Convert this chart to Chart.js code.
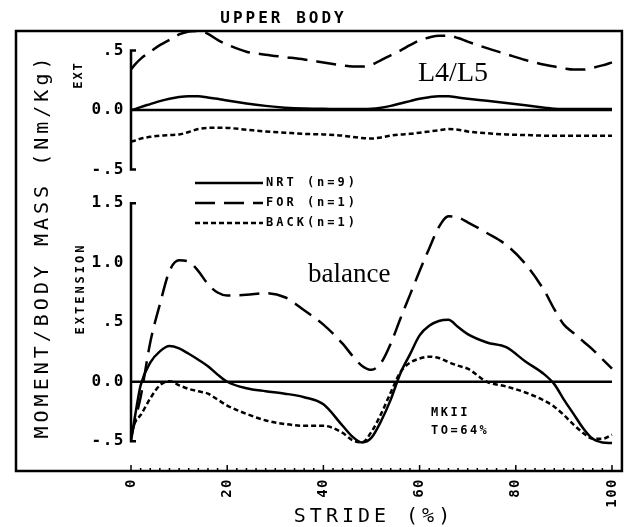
<!DOCTYPE html>
<html>
<head>
<meta charset="utf-8">
<script src="https://cdn.jsdelivr.net/npm/chart.js@4.4.1/dist/chart.umd.min.js"></script>
<style>
  html, body { margin: 0; padding: 0; background: #fff; }
</style>
</head>
<body>
<canvas id="chart" width="636" height="527"></canvas>
<script>
const stride = [0, 1, 2, 4, 6, 8, 10, 12, 14, 16, 18, 20, 24, 28, 32, 36, 40, 44, 46, 48, 50,
  52, 54, 56, 58, 60, 62, 64, 66, 68, 70, 74, 78, 82, 86, 88, 90, 92, 94, 96, 98, 100];

// upper body, L4/L5
const upperNrt = [0, 0.01, 0.025, 0.05, 0.075, 0.095, 0.11, 0.116, 0.115, 0.105, 0.095, 0.08,
  0.055, 0.035, 0.02, 0.012, 0.01, 0.008, 0.008, 0.008, 0.01, 0.02, 0.035, 0.055, 0.075, 0.095,
  0.108, 0.115, 0.115, 0.105, 0.095, 0.078, 0.06, 0.04, 0.02, 0.01, 0.008, 0.008, 0.008, 0.008,
  0.008, 0.008];
const upperFor = [0.34, 0.39, 0.43, 0.49, 0.545, 0.59, 0.635, 0.66, 0.665, 0.64, 0.59, 0.55,
  0.49, 0.465, 0.445, 0.425, 0.4, 0.375, 0.365, 0.365, 0.38, 0.42, 0.46, 0.5, 0.545, 0.585,
  0.61, 0.625, 0.625, 0.605, 0.575, 0.52, 0.47, 0.42, 0.38, 0.365, 0.35, 0.34, 0.34, 0.355,
  0.375, 0.4];
const upperBack = [-0.265, -0.255, -0.24, -0.225, -0.215, -0.21, -0.205, -0.185, -0.16, -0.15,
  -0.148, -0.15, -0.165, -0.18, -0.19, -0.2, -0.205, -0.215, -0.225, -0.235, -0.24, -0.23,
  -0.215, -0.205, -0.2, -0.19, -0.18, -0.17, -0.16, -0.165, -0.18, -0.195, -0.205, -0.21,
  -0.215, -0.215, -0.215, -0.215, -0.215, -0.215, -0.215, -0.215];

// balance (extension)
const lowerNrt = [-0.5, -0.25, -0.03, 0.16, 0.255, 0.3, 0.28, 0.235, 0.185, 0.13, 0.06, 0,
  -0.055, -0.08, -0.1, -0.13, -0.19, -0.37, -0.46, -0.51, -0.47, -0.33, -0.15, 0.07, 0.23,
  0.39, 0.47, 0.51, 0.52, 0.46, 0.4, 0.33, 0.29, 0.17, 0.06, -0.02, -0.15, -0.27, -0.39,
  -0.48, -0.51, -0.515];
const lowerFor = [-0.47, -0.3, -0.13, 0.33, 0.65, 0.93, 1.02, 1.01, 0.93, 0.82, 0.75, 0.725,
  0.73, 0.745, 0.71, 0.6, 0.48, 0.32, 0.22, 0.135, 0.1, 0.16, 0.32, 0.53, 0.73, 0.93, 1.12,
  1.3, 1.39, 1.38, 1.34, 1.25, 1.15, 0.99, 0.76, 0.61, 0.48, 0.41, 0.34, 0.27, 0.19, 0.11];
const lowerBack = [-0.42, -0.33, -0.28, -0.14, -0.03, 0.005, -0.03, -0.06, -0.08, -0.1, -0.15,
  -0.2, -0.27, -0.325, -0.355, -0.37, -0.37, -0.43, -0.49, -0.51, -0.42, -0.27, -0.09, 0.08,
  0.16, 0.195, 0.21, 0.2, 0.165, 0.135, 0.11, 0, -0.04, -0.09, -0.16, -0.21, -0.28, -0.36,
  -0.43, -0.48, -0.48, -0.445];

const zeroStride = [0, 100];
const zeroLine = [0, 0];

const strideTicks = [0, 20, 40, 60, 80, 100];
const upperTicks = [-0.5, 0, 0.5];
const lowerTicks = [-0.5, 0, 0.5, 1, 1.5];
const legendLabels = ['NRT (n=9)', 'FOR (n=1)', 'BACK(n=1)'];

const MONO = '"DejaVu Sans Mono", monospace';
const SERIF = '"Liberation Serif", "Times New Roman", serif';

function pts(xs, ys) {
  return xs.map(function(x, i) { return { x: x, y: ys[i] }; });
}

function line(label, xs, ys, axis, dash) {
  return {
    label: label,
    data: pts(xs, ys),
    yAxisID: axis,
    borderColor: '#000',
    borderWidth: 2.5,
    borderDash: dash,
    pointRadius: 0,
    fill: false,
    cubicInterpolationMode: 'monotone'
  };
}

const solid = [];
const longDash = [20, 9];
const shortDash = [5, 3];

function fmt(v) {
  if (v === 0) return '0.0';
  if (v === 1) return '1.0';
  if (v === 1.5) return '1.5';
  return (v < 0 ? '-' : '') + '.5';
}

function txt(ctx, s, x, y, font, sp, align, angle) {
  ctx.save();
  ctx.font = font;
  ctx.letterSpacing = sp + 'px';
  ctx.fillStyle = '#000';
  ctx.textBaseline = 'middle';
  ctx.textAlign = align;
  ctx.translate(x, y);
  if (angle) ctx.rotate(angle);
  ctx.fillText(s, align === 'center' ? sp / 2 : 0, 0);
  ctx.restore();
}

const decor = {
  id: 'decor',
  beforeDraw: function(chart) {
    chart.ctx.letterSpacing = '1.5px';
  },
  afterDraw: function(chart) {
    const ctx = chart.ctx;
    const a = chart.chartArea;
    const xs = chart.scales.x;
    ctx.save();
    ctx.letterSpacing = '0px';
    ctx.strokeStyle = '#000';
    ctx.lineWidth = 2.5;
    ctx.setLineDash([]);
    // outer frame
    ctx.strokeRect(16, a.top, a.right - 16, a.bottom - a.top);

    // small ticks along the stride axis
    ctx.lineWidth = 1.5;
    for (let v = 0; v <= 100; v += 2) {
      const px = xs.getPixelForValue(v);
      ctx.beginPath();
      ctx.moveTo(px, a.bottom);
      ctx.lineTo(px, a.bottom - (v % 20 === 0 ? 6 : 3));
      ctx.stroke();
    }

    // y axis spines, only across the labelled range
    ctx.lineWidth = 2.5;
    [['yU', upperTicks], ['yL', lowerTicks]].forEach(function(p) {
      const s = chart.scales[p[0]];
      const t = p[1];
      const y1 = s.getPixelForValue(t[t.length - 1]);
      const y0 = s.getPixelForValue(t[0]);
      ctx.beginPath();
      ctx.moveTo(a.left + 5, y1);
      ctx.lineTo(a.left, y1);
      ctx.lineTo(a.left, y0);
      ctx.lineTo(a.left + 5, y0);
      ctx.stroke();
    });

    // legend
    const ds = chart.data.datasets;
    [ds[3], ds[4], ds[5]].forEach(function(d, i) {
      const y = 183 + i * 20;
      ctx.setLineDash(d.borderDash);
      ctx.lineWidth = 2.5;
      ctx.beginPath();
      ctx.moveTo(195, y);
      ctx.lineTo(263, y);
      ctx.stroke();
      ctx.setLineDash([]);
      txt(ctx, legendLabels[i], 266, y, 'bold 12px ' + MONO, 3, 'left');
    });

    // titles and notes
    txt(ctx, 'UPPER BODY', 282, 19, 'bold 16px ' + MONO, 3, 'center');
    txt(ctx, 'MOMENT/BODY MASS (Nm/Kg)', 43, 248, '20px ' + MONO, 4, 'center', -Math.PI / 2);
    txt(ctx, 'EXT', 79, 76, 'bold 12px ' + MONO, 2, 'center', -Math.PI / 2);
    txt(ctx, 'EXTENSION', 81, 290, 'bold 12px ' + MONO, 3, 'center', -Math.PI / 2);
    txt(ctx, 'STRIDE (%)', 372, 517, '20px ' + MONO, 4, 'center');
    txt(ctx, 'MKII', 431, 413, 'bold 12px ' + MONO, 2.5, 'left');
    txt(ctx, 'TO=64%', 431, 431, 'bold 12px ' + MONO, 2.5, 'left');

    ctx.font = '28px ' + SERIF;
    ctx.textAlign = 'left';
    ctx.textBaseline = 'alphabetic';
    ctx.fillStyle = '#000';
    ctx.fillText('L4/L5', 418, 81);
    ctx.font = '27px ' + SERIF;
    ctx.fillText('balance', 308, 282);
    ctx.restore();
  }
};

new Chart(document.getElementById('chart'), {
  type: 'line',
  data: {
    datasets: [
      line('NRT upper', stride, upperNrt, 'yU', solid),
      line('FOR upper', stride, upperFor, 'yU', longDash),
      line('BACK upper', stride, upperBack, 'yU', shortDash),
      line('NRT (n=9)', stride, lowerNrt, 'yL', solid),
      line('FOR (n=1)', stride, lowerFor, 'yL', longDash),
      line('BACK(n=1)', stride, lowerBack, 'yL', shortDash),
      line('zero upper', zeroStride, zeroLine, 'yU', solid),
      line('zero lower', zeroStride, zeroLine, 'yL', solid)
    ]
  },
  options: {
    responsive: false,
    animation: false,
    devicePixelRatio: 1,
    layout: { padding: { left: 16, top: 31, right: 11, bottom: 0 } },
    plugins: {
      legend: { display: false },
      tooltip: { enabled: false }
    },
    scales: {
      x: {
        type: 'linear',
        min: 0,
        max: 102.07,
        grid: { display: false, drawTicks: false },
        border: { display: false },
        afterBuildTicks: function(scale) {
          scale.ticks = strideTicks.map(function(v) { return { value: v }; });
        },
        afterFit: function(scale) { scale.height = 56; },
        ticks: {
          autoSkip: false,
          minRotation: 90,
          maxRotation: 90,
          padding: 7,
          color: '#000',
          font: { family: MONO, size: 14, weight: 'bold' }
        }
      },
      // the lower panel comes first: stacked scales fill from the bottom
      yL: {
        type: 'linear',
        position: 'left',
        stack: 'moment',
        stackWeight: 283,
        min: -0.75,
        max: 1.628,
        grid: { display: false, drawTicks: false },
        border: { display: false },
        afterBuildTicks: function(scale) {
          scale.ticks = lowerTicks.map(function(v) { return { value: v }; });
        },
        afterFit: function(scale) { scale.width = 115; },
        ticks: {
          padding: 6,
          color: '#000',
          font: { family: MONO, size: 16, weight: 'bold' },
          callback: fmt
        }
      },
      yU: {
        type: 'linear',
        position: 'left',
        stack: 'moment',
        stackWeight: 157,
        min: -0.655,
        max: 0.664,
        grid: { display: false, drawTicks: false },
        border: { display: false },
        afterBuildTicks: function(scale) {
          scale.ticks = upperTicks.map(function(v) { return { value: v }; });
        },
        afterFit: function(scale) { scale.width = 115; },
        ticks: {
          padding: 6,
          color: '#000',
          font: { family: MONO, size: 16, weight: 'bold' },
          callback: fmt
        }
      }
    }
  },
  plugins: [decor]
});
</script>
</body>
</html>
